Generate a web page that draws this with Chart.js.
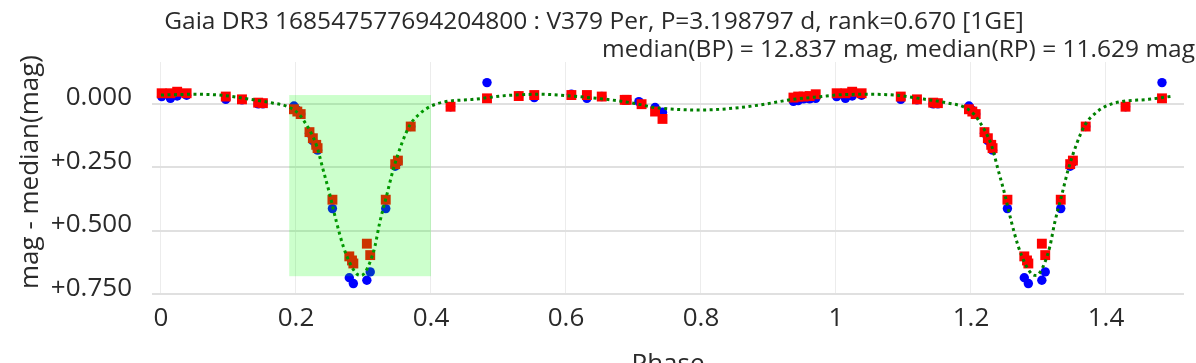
<!DOCTYPE html>
<html>
<head>
<meta charset="utf-8">
<script src="https://cdn.jsdelivr.net/npm/chart.js@4.4.1/dist/chart.umd.min.js"></script>
<style>
html,body{margin:0;padding:0;background:#fff;}
#c{display:block;}
</style>
</head>
<body>
<canvas id="c" width="1196" height="363"></canvas>
<script>
const titleLine1 = 'Gaia DR3 168547577694204800 : V379 Per, P=3.198797 d, rank=0.670 [1GE]';
const titleLine2 = 'median(BP) = 12.837 mag, median(RP) = 11.629 mag';
const xTitle = 'Phase';
const yTitle = 'mag - median(mag)';

const xTickValues = [0, 0.2, 0.4, 0.6, 0.8, 1, 1.2, 1.4];
const xTickLabels = ['0', '0.2', '0.4', '0.6', '0.8', '1', '1.2', '1.4'];
const yTickValues = [0, 0.25, 0.5, 0.75];
const yTickLabels = ['0.000', '+0.250', '+0.500', '+0.750'];

const phaseBP = [0.001,0.014,0.024,0.038,0.096,0.120,0.144,0.151,0.197,0.202,0.207,0.220,0.225,0.230,0.232,0.254,0.279,0.285,0.305,0.310,0.333,0.347,0.351,0.370,0.429,0.483,
  0.530,0.553,0.608,0.631,0.653,0.687,0.690,0.708,0.732,0.743,0.937,0.944,0.952,0.961,0.970,
  1.001,1.014,1.024,1.038,1.096,1.120,1.144,1.151,1.197,1.202,1.207,1.220,1.225,1.230,1.232,1.254,1.279,1.285,1.305,1.310,1.333,1.347,1.351,1.370,1.429,1.483];
const magBP = [-0.029,-0.022,-0.031,-0.034,-0.018,-0.016,0.000,0.000,0.008,0.025,0.040,0.115,0.145,0.165,0.182,0.412,0.684,0.707,0.694,0.661,0.412,0.245,0.228,0.089,0.011,-0.084,
  -0.031,-0.025,-0.038,-0.022,-0.029,-0.016,-0.016,-0.009,0.014,0.033,-0.010,-0.013,-0.020,-0.020,-0.022,
  -0.029,-0.022,-0.031,-0.034,-0.018,-0.016,0.000,0.000,0.008,0.025,0.040,0.115,0.145,0.165,0.182,0.412,0.684,0.707,0.694,0.661,0.412,0.245,0.228,0.089,0.011,-0.084];

const phaseRP = [0.001,0.014,0.024,0.038,0.096,0.120,0.144,0.151,0.197,0.202,0.207,0.220,0.225,0.230,0.232,0.254,0.279,0.283,0.285,0.305,0.310,0.333,0.347,0.351,0.370,0.429,0.483,
  0.530,0.553,0.608,0.631,0.653,0.687,0.690,0.712,0.732,0.743,0.937,0.944,0.952,0.961,0.970,
  1.001,1.014,1.024,1.038,1.096,1.120,1.144,1.151,1.197,1.202,1.207,1.220,1.225,1.230,1.232,1.254,1.279,1.283,1.285,1.305,1.310,1.333,1.347,1.351,1.370,1.429,1.483];
const magRP = [-0.042,-0.042,-0.048,-0.042,-0.029,-0.018,-0.005,-0.003,0.021,0.030,0.040,0.111,0.135,0.161,0.174,0.377,0.600,0.616,0.628,0.550,0.595,0.377,0.237,0.223,0.089,0.011,-0.022,
  -0.031,-0.035,-0.035,-0.035,-0.029,-0.016,-0.016,0.001,0.030,0.059,-0.025,-0.029,-0.029,-0.031,-0.038,
  -0.042,-0.042,-0.048,-0.042,-0.029,-0.018,-0.005,-0.003,0.021,0.030,0.040,0.111,0.135,0.161,0.174,0.377,0.600,0.616,0.628,0.550,0.595,0.377,0.237,0.223,0.089,0.011,-0.022];

const modelPhase = [0.000,0.050,0.090,0.130,0.165,0.190,0.205,0.215,0.222,0.231,0.240,0.250,0.260,0.270,0.280,0.290,0.297,0.303,0.310,0.317,0.324,0.334,0.344,0.357,0.369,0.384,0.399,0.420,0.463,0.512,0.561,0.611,0.660,0.700,0.729,0.760,0.800,0.848,0.887,0.937,0.986,
  1.000,1.050,1.090,1.130,1.165,1.190,1.205,1.215,1.222,1.231,1.240,1.250,1.260,1.270,1.280,1.290,1.297,1.303,1.310,1.317,1.324,1.334,1.344,1.357,1.369,1.384,1.399,1.420,1.463,1.500];
const modelMag = [-0.035,-0.038,-0.034,-0.019,-0.004,0.013,0.042,0.080,0.112,0.168,0.257,0.355,0.465,0.560,0.627,0.669,0.675,0.660,0.620,0.560,0.468,0.364,0.259,0.154,0.082,0.037,0.010,-0.008,-0.018,-0.033,-0.038,-0.030,-0.018,-0.003,0.013,0.021,0.024,0.017,0.004,-0.018,-0.031,
  -0.035,-0.038,-0.034,-0.019,-0.004,0.013,0.042,0.080,0.112,0.168,0.257,0.355,0.465,0.560,0.627,0.669,0.675,0.660,0.620,0.560,0.468,0.364,0.259,0.154,0.082,0.037,0.010,-0.008,-0.018,-0.031];

const boxPhase = [0.19, 0.40];
const boxMag = [-0.035, 0.678];

const toXY = (xs, ys) => xs.map((x, i) => ({x: x, y: ys[i]}));

const FONT = '"Open Sans", "DejaVu Sans", sans-serif';
const TEXT = '#2a2a2a';

const overlay = {
  id: 'overlay',
  afterDatasetsDraw(chart) {
    const {ctx, scales: {x, y}} = chart;
    const x0 = x.getPixelForValue(boxPhase[0]);
    const x1 = x.getPixelForValue(boxPhase[1]);
    const y0 = y.getPixelForValue(boxMag[0]);
    const y1 = y.getPixelForValue(boxMag[1]);
    ctx.save();
    ctx.fillStyle = 'rgba(0,255,0,0.2)';
    ctx.fillRect(x0, y0, x1 - x0, y1 - y0);
    ctx.restore();
  },
  afterDraw(chart) {
    const {ctx, chartArea} = chart;
    ctx.save();
    ctx.fillStyle = TEXT;
    ctx.textBaseline = 'alphabetic';
    ctx.font = '24.5px ' + FONT;
    ctx.textAlign = 'center';
    ctx.fillText(titleLine1, 594, 28.5);
    ctx.textAlign = 'right';
    ctx.fillText(titleLine2, 1195, 57);
    ctx.font = '26px ' + FONT;
    ctx.textAlign = 'center';
    ctx.fillText(xTitle, (chartArea.left + chartArea.right) / 2, 372);
    ctx.translate(38, 172);
    ctx.rotate(-Math.PI / 2);
    ctx.fillText(yTitle, 0, 0);
    ctx.restore();
  }
};

new Chart(document.getElementById('c'), {
  type: 'scatter',
  data: {
    datasets: [
      {
        type: 'line',
        label: 'model',
        data: toXY(modelPhase, modelMag),
        borderColor: 'rgb(0,128,0)',
        borderWidth: 3,
        borderDash: [3, 3.5],
        borderCapStyle: 'butt',
        pointRadius: 0,
        fill: false,
        cubicInterpolationMode: 'monotone',
        order: 0
      },
      {
        label: 'RP',
        data: toXY(phaseRP, magRP),
        pointStyle: 'rect',
        pointRadius: 7,
        backgroundColor: '#ff0000',
        borderColor: 'rgba(255,0,0,0)',
        borderWidth: 0,
        order: 1
      },
      {
        label: 'BP',
        data: toXY(phaseBP, magBP),
        pointStyle: 'circle',
        pointRadius: 4.7,
        backgroundColor: '#0000ff',
        borderColor: 'rgba(0,0,255,0)',
        borderWidth: 0,
        order: 2
      }
    ]
  },
  options: {
    responsive: false,
    animation: false,
    devicePixelRatio: 1,
    layout: {padding: {top: 62, right: 12, left: 0, bottom: 0}},
    plugins: {
      legend: {display: false},
      title: {display: false},
      tooltip: {enabled: false}
    },
    scales: {
      x: {
        type: 'linear',
        min: -0.0133,
        max: 1.5156,
        afterFit: (s) => { s.height = 68; },
        afterBuildTicks: (s) => { s.ticks = xTickValues.map(v => ({value: v})); },
        border: {display: false},
        grid: {color: '#ececec', lineWidth: 1, drawTicks: false},
        ticks: {
          padding: 8,
          color: TEXT,
          font: {family: FONT, size: 26},
          maxRotation: 0,
          autoSkip: false,
          callback: (v, i) => xTickLabels[i]
        }
      },
      y: {
        type: 'linear',
        reverse: true,
        min: -0.165,
        max: 0.752,
        afterFit: (s) => { s.width = 152; },
        afterBuildTicks: (s) => { s.ticks = yTickValues.map(v => ({value: v})); },
        border: {display: false},
        grid: {color: '#e0e0e0', lineWidth: 2, drawTicks: false},
        ticks: {
          padding: 20,
          labelOffset: -6,
          color: TEXT,
          font: {family: FONT, size: 26},
          autoSkip: false,
          callback: (v, i) => yTickLabels[i]
        }
      }
    }
  },
  plugins: [overlay]
});
</script>
</body>
</html>
